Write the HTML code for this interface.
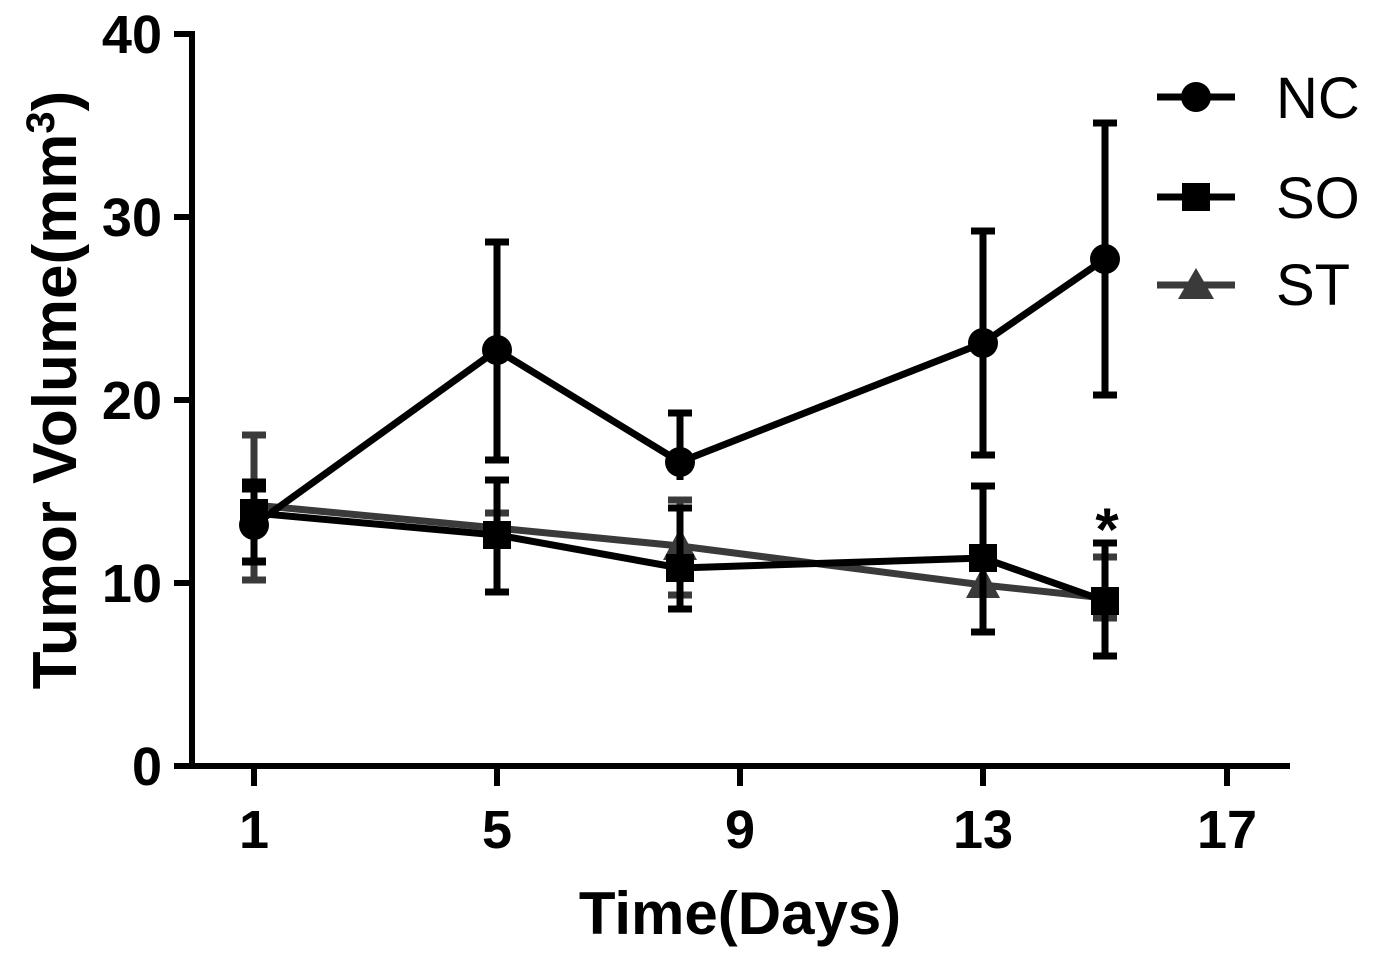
<!DOCTYPE html>
<html><head><style>body{margin:0;background:#fff}</style></head><body>
<svg width="1374" height="962" xmlns="http://www.w3.org/2000/svg" font-family="Liberation Sans, Arial, sans-serif" font-weight="bold">
<g stroke="#000" stroke-width="6" fill="none">
<line x1="192" y1="31" x2="192" y2="769"/>
<line x1="189" y1="766" x2="1290" y2="766"/>
<line x1="174" y1="34" x2="192" y2="34"/><line x1="174" y1="217" x2="192" y2="217"/><line x1="174" y1="400" x2="192" y2="400"/><line x1="174" y1="583" x2="192" y2="583"/><line x1="174" y1="766" x2="192" y2="766"/>
<line x1="254" y1="766" x2="254" y2="786"/><line x1="497" y1="766" x2="497" y2="786"/><line x1="740" y1="766" x2="740" y2="786"/><line x1="983" y1="766" x2="983" y2="786"/><line x1="1227" y1="766" x2="1227" y2="786"/>
</g>
<g font-size="54" text-anchor="end"><text x="162" y="53">40</text><text x="162" y="236">30</text><text x="162" y="419">20</text><text x="162" y="602">10</text><text x="162" y="785">0</text></g>
<g font-size="54" text-anchor="middle"><text x="254" y="848">1</text><text x="497" y="848">5</text><text x="740" y="848">9</text><text x="983" y="848">13</text><text x="1227" y="848">17</text></g>
<text x="740" y="934" font-size="60" text-anchor="middle">Time(Days)</text>
<text transform="translate(76,390) rotate(-90)" font-size="62" text-anchor="middle">Tumor Volume(mm<tspan font-size="40" dy="-22">3</tspan><tspan dy="22">)</tspan></text>
<!-- ST gray -->
<g stroke="#3a3a3a" stroke-width="7" fill="none">
<polyline points="254,505 497,528 680,546 983,585 1105,598"/>
<path d="M254,435V580M242,435h24M242,580h24M497,513V542M485,513h24M680,500V595M668,500h24M668,595h24M983,585V600M1105,557V618M1093,557h24M1093,618h24"/>
</g>
<path d="M983,566L1000,598H966Z M680,528L697,560H663Z" fill="#3a3a3a"/>
<!-- SO -->
<g stroke="#000" stroke-width="7" fill="none">
<polyline points="254,513 497,535 680,568 983,558 1105,601"/>
<path d="M254,489V561M242,489h24M242,561h24M497,480V592M485,480h24M485,592h24M680,508V609M668,508h24M668,609h24M983,486V632M971,486h24M971,632h24M1105,543V656M1093,543h24M1093,656h24"/>
</g>
<g fill="#000"><rect x="240" y="499" width="28" height="28"/><rect x="483" y="521" width="28" height="28"/><rect x="666" y="554" width="28" height="28"/><rect x="969" y="544" width="28" height="28"/><rect x="1091" y="587" width="28" height="28"/></g>
<!-- NC -->
<g stroke="#000" stroke-width="7" fill="none">
<polyline points="254,525 497,350 680,462 983,343 1105,259"/>
<path d="M254,482V562M242,482h24M242,562h24M497,242V460M485,242h24M485,460h24M680,413V480M668,413h24M983,231V455M971,231h24M971,455h24M1105,123V395M1093,123h24M1093,395h24"/>
</g>
<g fill="#000"><circle cx="254" cy="525" r="15"/><circle cx="497" cy="350" r="15"/><circle cx="680" cy="462" r="15"/><circle cx="983" cy="343" r="15"/><circle cx="1105" cy="259" r="15"/></g>
<text x="1107" y="550" font-size="60" text-anchor="middle">*</text>
<!-- legend -->
<g stroke-width="7"><line x1="1157" y1="97" x2="1235" y2="97" stroke="#000"/><line x1="1157" y1="197" x2="1235" y2="197" stroke="#000"/><line x1="1157" y1="285" x2="1235" y2="285" stroke="#3a3a3a"/></g>
<circle cx="1196" cy="97" r="15" fill="#000"/><rect x="1182" y="183" width="28" height="28" fill="#000"/><path d="M1196,268L1214,299H1178Z" fill="#3a3a3a"/>
<g font-size="58" font-weight="normal"><text x="1276" y="118">NC</text><text x="1276" y="218">SO</text><text x="1276" y="305">ST</text></g>
</svg>
</body></html>
